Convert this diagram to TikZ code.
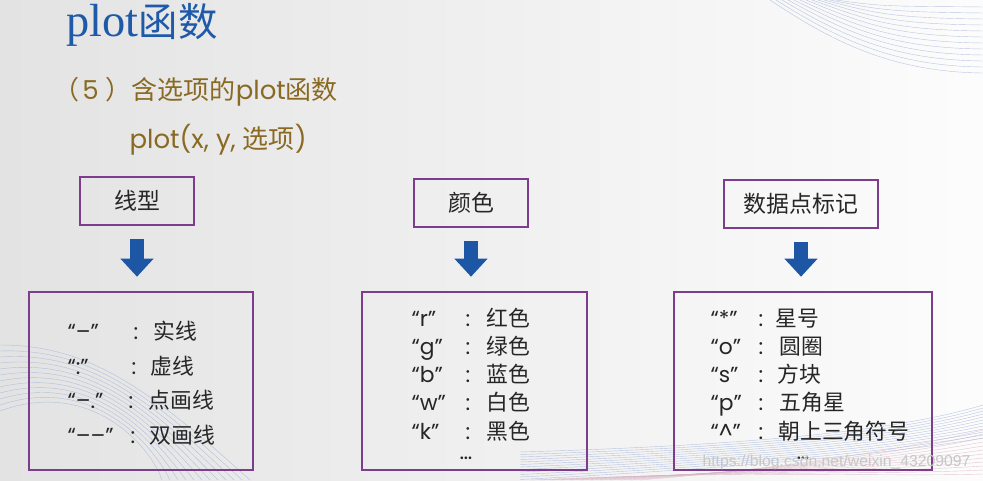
\documentclass[tikz,border=0pt]{standalone}
\usepackage{fontspec}
\setmainfont{Poppins}
\newfontfamily\lat{Poppins}
\newfontfamily\cjk{Noto Sans CJK SC}
\newfontfamily\serifplot{Liberation Serif}
\newfontfamily\wmfont{Liberation Sans}
\usepackage{xcolor}
\definecolor{titleblue}{HTML}{1F5AA8}
\definecolor{headbrown}{HTML}{8A6A22}
\definecolor{boxpurple}{HTML}{7D3C8C}
\definecolor{arrowblue}{HTML}{1E56A6}
\definecolor{txtgray}{HTML}{262626}
\definecolor{bglinecol}{HTML}{9FB0D6}
\definecolor{bgpink}{HTML}{D8B4C4}
\usepackage{tikz}
\usetikzlibrary{arrows.meta}

\begin{document}
\begin{tikzpicture}[x=0.025cm, y=-0.025cm, thick,
	headbox/.style={draw=boxpurple, line width=1.8pt, minimum height=1.2cm, inner sep=0pt, text=txtgray, font=\cjk\fontsize{16.3}{16.3}\selectfont},
	listbox/.style={draw=boxpurple, line width=1.8pt, minimum height=4.45cm, inner sep=0pt},
	downarrow/.style={arrowblue, line width=0.33cm, -{Triangle[length=0.45cm, width=0.8cm]}, shorten <=0.325cm, shorten >=0.35cm},
	rowtext/.style={inner sep=0pt, text=txtgray, font=\lat\fontsize{15.5}{15.5}\selectfont},
	cjkrow/.style={inner sep=0pt, text=txtgray, font=\cjk\fontsize{15.5}{15.5}\selectfont},
	bgline/.style={draw=bglinecol, line width=0.3pt, opacity=0.7}]
	\useasboundingbox (0, 0) rectangle (983, 480);
	\shade[left color=black!11, right color=black!1] (0, 0) rectangle (983, 480);
	
	% background curves
	\foreach \i in {0,...,11} {
		\draw[bgline] (770+6*\i, 0) .. controls (830+5*\i, 40-3*\i) and (890, 72-6*\i) .. (983, 73-6*\i);
		\draw[bgline] (0, 345+6*\i) .. controls (90, 345+3*\i) and (150, 390+5*\i) .. (250-8*\i, 480);
		\draw[bgline] (983, 405+3*\i) .. controls (900, 430+2*\i) and (760, 445+2*\i) .. (520, 452+2.5*\i);
		\draw[bgline, draw=bgpink] (983, 430+4*\i) .. controls (880, 455+2*\i) and (760, 470) .. (640-10*\i, 480);
	}
	
	% titles
	\node[anchor=base west, inner sep=0pt, text=titleblue] (title) at (66, 36) {\serifplot\fontsize{33}{33}\selectfont plot\cjk\fontsize{28}{28}\selectfont 函数};
	\node[anchor=base west, inner sep=0pt, text=headbrown, font=\fontsize{18.5}{18.5}\selectfont] (head) at (53, 99) {\cjk（\hspace{2pt}\lat 5\hspace{5pt}\cjk）含选项的\lat plot\cjk 函数};
	\node[anchor=base west, inner sep=0pt, text=headbrown, font=\lat\fontsize{18.5}{18.5}\selectfont] (call) at (129, 148) {plot(x, y, \cjk 选项\lat)};
	
	% three columns
	\node[headbox, minimum width=2.85cm] (t1) at (137, 201) {线型};
	\node[headbox, minimum width=2.85cm] (t2) at (471, 203) {颜色};
	\node[headbox, minimum width=3.85cm] (t3) at (801, 204) {数据点标记};
	\node[listbox, minimum width=5.6cm] (l1) at (141, 381) {};
	\node[listbox, minimum width=5.62cm] (l2) at (474.5, 381) {};
	\node[listbox, minimum width=6.45cm] (l3) at (803, 381) {};
	\foreach \n in {1,2,3} {
		\draw[downarrow] (t\n.south) -- (t\n.south |- l\n.north);
	}
	
	% line styles
	\foreach \k/\cx/\vx/\v/\y [count=\i] in {{“–”}/136/153/实线/339, {“:”}/134/150/虚线/374, {“–.”}/131/148/点画线/408, {“––”}/133/149/双画线/443} {
		\node[rowtext, anchor=base west] (ka\i) at (67, \y) {\k};
		\node[rowtext, anchor=base] (ca\i) at (\cx, \y) {:};
		\node[cjkrow, anchor=base west] (va\i) at (\vx, \y) {\v};
	}
	% colours
	\foreach \k/\v/\y [count=\i] in {{“r”}/红色/326, {“g”}/绿色/354, {“b”}/蓝色/382, {“w”}/白色/410, {“k”}/黑色/439} {
		\node[rowtext, anchor=base west] (kb\i) at (411, \y) {\k};
		\node[rowtext, anchor=base] (cb\i) at (468, \y) {:};
		\node[cjkrow, anchor=base west] (vb\i) at (486, \y) {\v};
	}
	\node[rowtext, anchor=base] (kb6) at (466, 459) {…};
	% markers
	\foreach \k/\vx/\v/\y [count=\i] in {{“*”}/775/星号/326, {“o”}/779/圆圈/354, {“s”}/777/方块/382, {“p”}/779/五角星/410, {“\^{}”}/778/朝上三角符号/439} {
		\node[rowtext, anchor=base west] (kc\i) at (710, \y) {\k};
		\node[rowtext, anchor=base] (cc\i) at (761, \y) {:};
		\node[cjkrow, anchor=base west] (vc\i) at (\vx, \y) {\v};
	}
	\node[rowtext, anchor=base] (kc6) at (803, 459) {…};
	
	\node[anchor=base west, inner sep=0pt, text=black!22, font=\wmfont\fontsize{11.2}{11.2}\selectfont] (wm) at (702, 466) {https://blog.csdn.net/weixin\_43209097};
\end{tikzpicture}
\end{document}
